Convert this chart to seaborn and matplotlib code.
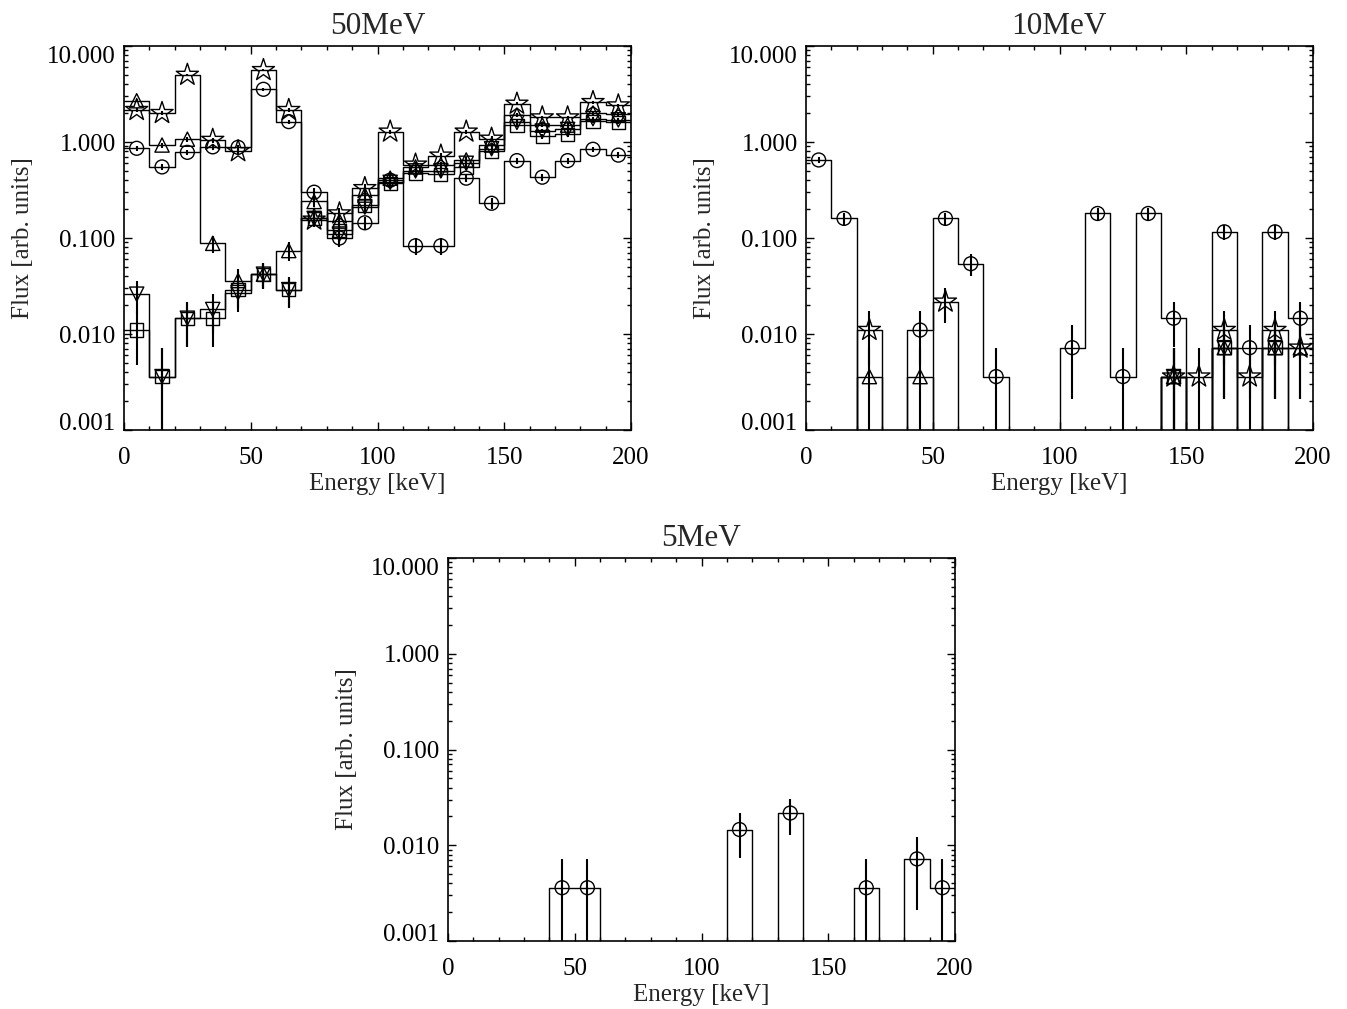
import numpy as np
import pandas as pd
import matplotlib
matplotlib.use("Agg")
import matplotlib.pyplot as plt
import seaborn as sns
from matplotlib.ticker import MultipleLocator, LogLocator, FixedLocator, FormatStrFormatter, NullFormatter

# ---------------- data ----------------
energy = [5, 15, 25, 35, 45, 55, 65, 75, 85, 95, 105, 115, 125, 135, 145, 155, 165, 175, 185, 195]
edges = [0, 10, 20, 30, 40, 50, 60, 70, 80, 90, 100, 110, 120, 130, 140, 150, 160, 170, 180, 190, 200]
y_ticks = [0.001, 0.01, 0.1, 1.0, 10.0]

# 50 MeV
circle_50 = [0.86, 0.55, 0.78, 0.89, 0.88, 3.54, 1.63, 0.30, 0.10, 0.144, 0.40, 0.083, 0.083, 0.42, 0.23, 0.64, 0.43, 0.64, 0.84, 0.73]
circle_50_err = [0.056, 0.045, 0.053, 0.057, 0.056, 0.113, 0.077, 0.033, 0.019, 0.023, 0.038, 0.017, 0.017, 0.039, 0.029, 0.048, 0.039, 0.048, 0.055, 0.051]
triup_50 = [2.69, 0.93, 1.07, 0.088, 0.036, 0.042, 0.074, 0.24, 0.15, 0.28, 0.42, 0.55, 0.58, 0.65, 0.93, 1.9, 1.5, 1.5, 2.0, 1.95]
triup_50_err = [0.098, 0.058, 0.062, 0.018, 0.011, 0.012, 0.016, 0.029, 0.023, 0.032, 0.039, 0.045, 0.046, 0.048, 0.058, 0.083, 0.074, 0.074, 0.085, 0.084]
star_50 = [2.15, 2.0, 5.0, 1.05, 0.80, 5.6, 2.15, 0.155, 0.18, 0.33, 1.28, 0.58, 0.72, 1.28, 1.08, 2.5, 1.8, 1.8, 2.6, 2.4]
star_50_err = [0.088, 0.085, 0.134, 0.062, 0.054, 0.142, 0.088, 0.024, 0.026, 0.035, 0.068, 0.046, 0.051, 0.068, 0.062, 0.095, 0.081, 0.081, 0.097, 0.093]
square_50 = [0.011, 0.0036, 0.0146, 0.0146, 0.029, 0.042, 0.029, 0.16, 0.12, 0.22, 0.37, 0.47, 0.46, 0.55, 0.80, 1.5, 1.15, 1.2, 1.65, 1.6]
square_50_err = [0.0063, 0.0036, 0.0072, 0.0072, 0.0102, 0.0123, 0.0102, 0.024, 0.021, 0.028, 0.037, 0.041, 0.041, 0.045, 0.054, 0.074, 0.064, 0.066, 0.077, 0.076]
tridown_50 = [0.026, 0.0036, 0.0146, 0.018, 0.027, 0.042, 0.029, 0.16, 0.11, 0.21, 0.38, 0.50, 0.50, 0.60, 0.85, 1.6, 1.3, 1.35, 1.75, 1.7]
tridown_50_err = [0.0097, 0.0036, 0.0072, 0.008, 0.0099, 0.0123, 0.0102, 0.024, 0.020, 0.028, 0.037, 0.042, 0.042, 0.047, 0.055, 0.076, 0.068, 0.070, 0.079, 0.078]

# 10 MeV
circle_10 = [0.65, 0.16, 0, 0, 0.011, 0.16, 0.054, 0.0036, 0, 0, 0.0072, 0.18, 0.0036, 0.18, 0.0146, 0, 0.116, 0.0072, 0.116, 0.0146]
circle_10_err = [0.048, 0.024, 0, 0, 0.0063, 0.024, 0.014, 0.0036, 0, 0, 0.0051, 0.0255, 0.0036, 0.0255, 0.0072, 0, 0.020, 0.0051, 0.020, 0.0072]
triup_10 = [0, 0, 0.0036, 0, 0.0036, 0, 0, 0, 0, 0, 0, 0, 0, 0, 0.0036, 0, 0.0072, 0, 0.0072, 0.0072]
triup_10_err = [0, 0, 0.0036, 0, 0.0036, 0, 0, 0, 0, 0, 0, 0, 0, 0, 0.0036, 0, 0.0051, 0, 0.0051, 0.0051]
star_10 = [0, 0, 0.011, 0, 0, 0.0217, 0, 0, 0, 0, 0, 0, 0, 0, 0.0036, 0.0036, 0.011, 0.0036, 0.011, 0.0072]
star_10_err = [0, 0, 0.0063, 0, 0, 0.0088, 0, 0, 0, 0, 0, 0, 0, 0, 0.0036, 0.0036, 0.0063, 0.0036, 0.0063, 0.0051]
square_10 = [0, 0, 0, 0, 0, 0, 0, 0, 0, 0, 0, 0, 0, 0, 0.0036, 0, 0.0072, 0, 0.0072, 0]
square_10_err = [0, 0, 0, 0, 0, 0, 0, 0, 0, 0, 0, 0, 0, 0, 0.0036, 0, 0.0051, 0, 0.0051, 0]
tridown_10 = [0, 0, 0, 0, 0, 0, 0, 0, 0, 0, 0, 0, 0, 0, 0.0036, 0, 0.0072, 0, 0.0072, 0]
tridown_10_err = [0, 0, 0, 0, 0, 0, 0, 0, 0, 0, 0, 0, 0, 0, 0.0036, 0, 0.0051, 0, 0.0051, 0]

# 5 MeV
circle_5 = [0, 0, 0, 0, 0.0036, 0.0036, 0, 0, 0, 0, 0, 0.0146, 0, 0.0217, 0, 0, 0.0036, 0, 0.0072, 0.0036]
circle_5_err = [0, 0, 0, 0, 0.0036, 0.0036, 0, 0, 0, 0, 0, 0.0072, 0, 0.0088, 0, 0, 0.0036, 0, 0.0051, 0.0036]

titles = ["50MeV", "10MeV", "5MeV"]
xlabel = "Energy [keV]"
ylabel = "Flux [arb. units]"

# ---------------- style ----------------
sns.set_theme(style="ticks")
plt.rcParams['font.family'] = ['Liberation Serif', 'DejaVu Serif']

FLOOR = 1e-7
MARK = {'o': 100, '^': 105, 'v': 105, 's': 90, '*': 280}

fig = plt.figure(figsize=(13.47, 10.09), dpi=100)
ax1 = fig.add_axes([124 / 1347, 1 - 430 / 1009, 507 / 1347, 384 / 1009])
ax2 = fig.add_axes([806 / 1347, 1 - 430 / 1009, 507 / 1347, 384 / 1009])
ax3 = fig.add_axes([448 / 1347, 1 - 941 / 1009, 507 / 1347, 383 / 1009])

centers = np.array(energy, dtype=float)


def draw_series(ax, vals, errs, marker):
    v = np.array(vals, dtype=float)
    e = np.array(errs, dtype=float)
    step_y = np.where(v > 0, v, FLOOR)
    df = pd.DataFrame({'E': edges, 'F': np.append(step_y, step_y[-1])})
    sns.lineplot(data=df, x='E', y='F', drawstyle='steps-post', color='black',
                 lw=1.0, ax=ax, zorder=2)
    m = v > 0
    ax.vlines(centers[m], np.maximum(v - e, FLOOR)[m], (v + e)[m],
              color='black', lw=1.5, zorder=3)
    sns.scatterplot(x=centers[m], y=v[m], marker=marker, s=MARK[marker],
                    color='black', facecolor='none', edgecolor='black',
                    linewidth=1.0, ax=ax, zorder=4)


def style_axes(ax, title):
    ax.set_yscale('log')
    ax.set_xlim(0, 200)
    ax.set_ylim(1e-3, 10)
    ax.xaxis.set_major_locator(MultipleLocator(50))
    ax.xaxis.set_minor_locator(MultipleLocator(10))
    ax.yaxis.set_major_locator(FixedLocator(y_ticks))
    ax.yaxis.set_minor_locator(LogLocator(base=10, subs=np.arange(2, 10), numticks=20))
    ax.yaxis.set_major_formatter(FormatStrFormatter('%.3f'))
    ax.yaxis.set_minor_formatter(NullFormatter())
    ax.tick_params(which='both', direction='in', top=True, right=True,
                   colors='black', labelsize=18)
    ax.tick_params(which='major', length=5.5, width=1.0)
    ax.tick_params(which='minor', length=3, width=1.0)
    ax.tick_params(axis='x', which='major', pad=12)
    ax.tick_params(axis='y', which='major', pad=6)
    for sp in ax.spines.values():
        sp.set_linewidth(1.2)
        sp.set_color('black')
    ax.set_xlabel(xlabel, fontsize=18, labelpad=3)
    ax.set_ylabel(ylabel, fontsize=18, labelpad=9)
    ax.set_title(title, fontsize=22.5, pad=9)
    ax.set_facecolor('white')
    ticks = ax.yaxis.get_major_ticks()
    ticks[0].label1.set_verticalalignment('baseline')
    ticks[-1].label1.set_verticalalignment('top')


# panel 1
draw_series(ax1, circle_50, circle_50_err, 'o')
draw_series(ax1, triup_50, triup_50_err, '^')
draw_series(ax1, star_50, star_50_err, '*')
draw_series(ax1, square_50, square_50_err, 's')
draw_series(ax1, tridown_50, tridown_50_err, 'v')
style_axes(ax1, titles[0])

# panel 2
draw_series(ax2, circle_10, circle_10_err, 'o')
draw_series(ax2, triup_10, triup_10_err, '^')
draw_series(ax2, star_10, star_10_err, '*')
draw_series(ax2, square_10, square_10_err, 's')
draw_series(ax2, tridown_10, tridown_10_err, 'v')
style_axes(ax2, titles[1])

# panel 3
draw_series(ax3, circle_5, circle_5_err, 'o')
style_axes(ax3, titles[2])

fig.savefig("out.png", dpi=100, facecolor='white')
